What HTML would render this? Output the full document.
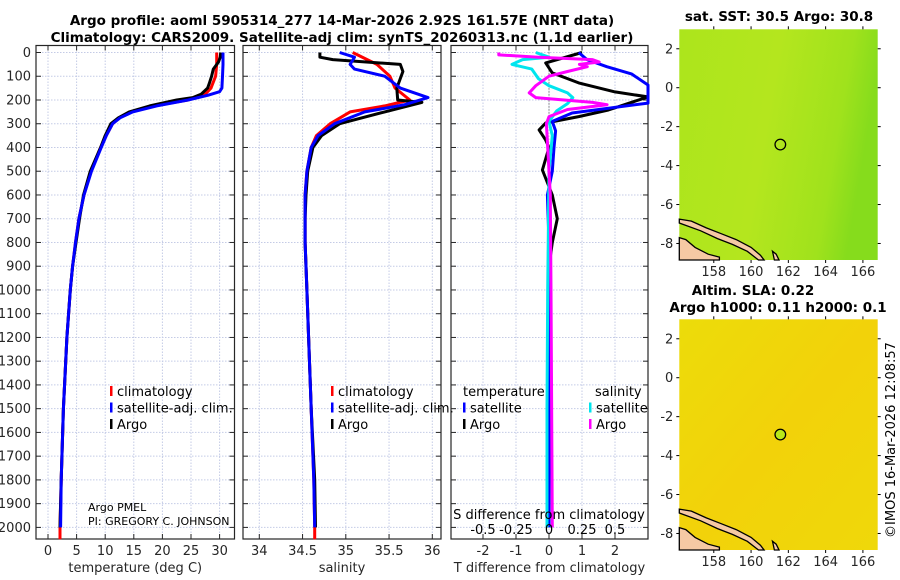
<!DOCTYPE html>
<html><head><meta charset="utf-8"><style>
html,body{margin:0;padding:0;background:#fff;width:900px;height:580px;overflow:hidden}
svg{display:block;font-family:"DejaVu Sans","Liberation Sans",sans-serif}
.t{font-size:13px;fill:#262626}
.b{font-size:13.5px;font-weight:bold;fill:#000}
</style></head><body>
<svg id="fig" width="900" height="580" viewBox="0 0 900 580">
<text class="b" x="342" y="25" text-anchor="middle">Argo profile: aoml 5905314_277 14-Mar-2026 2.92S 161.57E (NRT data)</text>
<text class="b" x="342" y="42" text-anchor="middle">Climatology: CARS2009. Satellite-adj clim: synTS_20260313.nc (1.1d earlier)</text>
</svg>
<script>
// ---- data ----
const depthTicks=[0,100,200,300,400,500,600,700,800,900,1000,1100,1200,1300,1400,1500,1600,1700,1800,1900,2000];
const tempTicks=[0,5,10,15,20,25,30];
const salTicks=[34,34.5,35,35.5,36];
const salTickLabels=["34","34.5","35","35.5","36"];
const tdTicks=[-2,-1,0,1,2];
const sdTicks=[-0.5,-0.25,0,0.25,0.5];
const sdTickLabels=["-0.5","-0.25","0","0.25","0.5"];
const lonTicks=[158,160,162,164,166];
const latTicks=[2,0,-2,-4,-6,-8];

const climDepth=[0,50,100,150,175,200,225,250,275,300,350,400,500,600,700,800,900,1000,1200,1500,1800,2000,2050];
const climTemp=[29.5,29.5,29.3,28.5,27.5,24.5,18.5,14.5,12.5,11.3,10.2,9.2,7.5,6.3,5.4,4.8,4.3,3.9,3.3,2.7,2.3,2.1,2.1];
const satTempDepth=[0,50,100,150,165,180,200,225,250,275,300,350,400,500,600,700,800,900,1000,1200,1500,1800,2000];
const satTemp=[30.6,30.6,30.5,30.4,30,28,24.5,19,14.8,12.6,11.3,10.2,9.3,7.6,6.3,5.4,4.8,4.3,3.9,3.3,2.7,2.3,2.2];
const argoTempDepth=[0,20,40,70,100,130,150,175,190,200,225,250,275,300,350,400,500,600,700,800,900,1000,1200,1500,1800,2000];
const argoTemp=[30.2,30.1,29.8,28.9,28.6,28.2,27.9,26.8,25.3,22.5,17.8,14.2,12.3,11,10,9.2,7.4,6.2,5.5,4.9,4.3,3.9,3.3,2.7,2.3,2.1];

const climSalDepth=[0,50,100,150,200,225,250,300,350,400,500,600,700,800,900,1000,1200,1500,1800,2000,2050];
const climSal=[35.08,35.36,35.51,35.57,35.74,35.45,35.05,34.82,34.66,34.6,34.55,34.53,34.53,34.53,34.54,34.55,34.57,34.6,34.63,34.64,34.64];
const satSalDepth=[0,20,50,70,100,150,190,220,250,300,350,400,500,600,700,800,1000,1200,1500,1800,2000];
const satSal=[34.93,35.1,35.05,35.1,35.45,35.63,35.95,35.68,35.22,34.87,34.68,34.6,34.55,34.53,34.53,34.53,34.55,34.57,34.6,34.63,34.64];
const argoSalDepth=[0,20,30,50,80,150,200,210,250,300,350,400,500,600,700,800,1000,1200,1500,1800,2000];
const argoSal=[34.7,34.7,34.85,35.63,35.66,35.59,35.6,35.88,35.45,34.93,34.72,34.62,34.56,34.54,34.53,34.53,34.55,34.57,34.6,34.64,34.65];

const tdDepth=[0,44,86,128,166,187,242,270,297,326,369,400,495,600,700,800,900,1200,1600,2000];
const argoTDiff=[1.0,-0.1,0.1,0.9,2.0,3.1,1.8,0.9,-0.1,-0.3,-0.1,0,-0.2,0.1,0.25,0.1,0,0.02,0,0];
const satTDiffDepth=[0,30,60,90,137,213,255,290,330,400,500,600,800,1200,1600,2000];
const satTDiff=[0.9,1.15,1.75,2.5,3.1,3.1,0.7,0.1,0.2,0.15,0.1,-0.05,0,0.02,0,0];
const sdDepth=[0,20,30,50,70,110,140,170,190,215,245,290,350,500,1000,1500,2000];
const satSDiff=[-0.1,0,-0.2,-0.28,-0.13,-0.08,0,0.14,0.18,0.14,0.06,0,0.025,0,-0.01,-0.015,-0.015];
const argoSDepth=[0,10,20,30,40,50,60,80,100,140,170,190,210,220,240,270,300,400,600,1000,2000];
const argoSDiff=[-0.38,-0.38,-0.08,0.33,0.38,0.23,0.29,0.14,0,-0.1,-0.15,-0.1,0.33,0.44,0.14,0,-0.02,-0.01,0.01,0.015,0.025];

const argoLon=161.57, argoLat=-2.92;

// ---- helpers ----
const NS="http://www.w3.org/2000/svg";
const svg=document.getElementById('fig');
function mk(tag,attrs,parent){const e=document.createElementNS(NS,tag);for(const k in attrs)e.setAttribute(k,attrs[k]);(parent||svg).appendChild(e);return e;}
const TOP=52.5, PXM=0.23745, BOT=539;
const yD=d=>TOP+d*PXM;

function panel(name,x0,x1,xs,xticks,xlabels,xtitle,ylabels){
  const g=mk('g',{});
  
  
  const top=45.5;
  depthTicks.forEach(d=>{mk('line',{x1:x0,x2:x1,y1:yD(d),y2:yD(d),stroke:'#c4cbe6','stroke-width':1,'stroke-dasharray':'1.5,1.5'},g);});
  xticks.forEach(v=>{mk('line',{x1:xs(v),x2:xs(v),y1:top,y2:BOT,stroke:'#c4cbe6','stroke-width':1,'stroke-dasharray':'1.5,1.5'},g);});
  depthTicks.forEach(d=>{
    mk('line',{x1:x0,x2:x0+5,y1:yD(d),y2:yD(d),stroke:'#262626'},g);
    mk('line',{x1:x1-5,x2:x1,y1:yD(d),y2:yD(d),stroke:'#262626'},g);
    if(ylabels){const t=mk('text',{x:x0-5,y:yD(d)+4.5,'text-anchor':'end',class:'t'},g);t.textContent=d;
      
      }
  });
  xticks.forEach((v,i)=>{
    mk('line',{x1:xs(v),x2:xs(v),y1:BOT-5,y2:BOT,stroke:'#262626'},g);
    mk('line',{x1:xs(v),x2:xs(v),y1:top,y2:top+5,stroke:'#262626'},g);
    const t=mk('text',{x:xs(v),y:555,'text-anchor':'middle',class:'t'},g);t.textContent=xlabels[i];
    
    
  });
  mk('rect',{x:x0,y:top,width:x1-x0,height:BOT-top,fill:'none',stroke:'#262626','stroke-width':1.2},g);
  const tt=mk('text',{x:(x0+x1)/2,y:572,'text-anchor':'middle',class:'t'},g);tt.textContent=xtitle;
  
  
  return g;
}
function line(g,name,xs,vals,depths,color,x0,x1,w){
  const pts=vals.map((v,i)=>{let x=xs(v);x=Math.max(x0,Math.min(x1,x));return x.toFixed(1)+','+yD(depths[i]).toFixed(1)}).join(' ');
  const p=mk('polyline',{points:pts,fill:'none',stroke:color,'stroke-width':w||3,'stroke-linejoin':'round'},g);
  
  
}
function legend(g,x,y,items){
  items.forEach((it,i)=>{
    if(it[1]) mk('rect',{x:x,y:y+i*16.5-6,width:2.5,height:10,fill:it[1]},g);
    const t=mk('text',{x:x+(it[1]?7:0),y:y+i*16.5+4,class:'t',style:'fill:#000'},g);t.textContent=it[0];
    
    
  });
}

// panel 1 temperature
const xT=v=>48+v*5.72;
const g1=panel('temperature-panel',36,234.5,xT,tempTicks,tempTicks.map(String),'temperature (deg C)',true);
line(g1,'clim-temp-line',xT,climTemp,climDepth,'#ff0000',36,234.5);
line(g1,'argo-temp-line',xT,argoTemp,argoTempDepth,'#000000',36,234.5);
line(g1,'sat-temp-line',xT,satTemp.slice(0,-1).concat([2.2]),satTempDepth,'#0000ff',36,234.5);
legend(g1,110,392,[['climatology','#ff0000'],['satellite-adj. clim.','#0000ff'],['Argo','#000']]);
{const t=mk('text',{x:88,y:511,style:'font-size:11px;fill:#000'},g1);t.textContent='Argo PMEL';


const t2=mk('text',{x:88,y:525,style:'font-size:11px;fill:#000'},g1);t2.textContent='PI: GREGORY C. JOHNSON';

}

// panel 2 salinity
const xS=v=>259.3+(v-34)*86.5;
const g2=panel('salinity-panel',243,441,xS,salTicks,salTickLabels,'salinity',false);
line(g2,'clim-sal-line',xS,climSal,climSalDepth,'#ff0000',243,441);
line(g2,'argo-sal-line',xS,argoSal,argoSalDepth,'#000000',243,441);
line(g2,'sat-sal-line',xS,satSal,satSalDepth,'#0000ff',243,441);
legend(g2,331,392,[['climatology','#ff0000'],['satellite-adj. clim.','#0000ff'],['Argo','#000']]);

// panel 3 differences
const xTD=v=>549+v*33;
const xSD=v=>549+v*132;
const g3=panel('difference-panel',451,648,xTD,tdTicks,tdTicks.map(String),'T difference from climatology',false);
mk('line',{x1:549,x2:549,y1:TOP,y2:yD(300),stroke:'#444','stroke-dasharray':'1,2'},g3);
line(g3,'argo-tdiff-line',xTD,argoTDiff,tdDepth,'#000',451,648);
line(g3,'sat-tdiff-line',xTD,satTDiff,satTDiffDepth,'#0000ff',451,648);
line(g3,'sat-sdiff-line',xSD,satSDiff,sdDepth,'#00e5ee',451,648);
line(g3,'argo-sdiff-line',xSD,argoSDiff,argoSDepth,'#ff00ff',451,648);
legend(g3,463,392,[['temperature',null],['satellite','#0000ff'],['Argo','#000']]);
{const t=mk('text',{x:595,y:396,class:'t',style:'fill:#000'},g3);t.textContent='salinity';

}
legend(g3,589,408.5,[['satellite','#00e5ee'],['Argo','#ff00ff']]);
{const t=mk('text',{x:549,y:519,'text-anchor':'middle',class:'t',style:'fill:#000'},g3);t.textContent='S difference from climatology';

}
sdTicks.forEach((v,i)=>{const t=mk('text',{x:xSD(v),y:534,'text-anchor':'middle',class:'t',style:'fill:#000'},g3);t.textContent=sdTickLabels[i];

});

// maps
const MX0=679.3,MX1=877.7;
const mxp=l=>MX0+(l-156.15)*18.64;
function map(name,top,title,fill,dotFill){
  const g=mk('g',{});
  
  
  const myp=l=>top+(3.0-l)*19.47;
  const bot=top+230.7;
  mk('rect',{x:MX0,y:top,width:MX1-MX0,height:bot-top,fill:fill},g);
  const land=[[[156.15,-6.75],[156.8,-6.85],[157.6,-7.2],[158.4,-7.5],[159.2,-7.8],[160,-8.2],[160.5,-8.6],[160.7,-8.85],[160.4,-8.85],[159.8,-8.4],[159,-8.05],[158.2,-7.75],[157.3,-7.35],[156.15,-6.95]],
   [[156.15,-7.7],[156.5,-7.8],[157.0,-8.2],[157.7,-8.55],[158.3,-8.7],[158.3,-8.85],[156.15,-8.85]],
   [[161.15,-8.4],[161.35,-8.55],[161.5,-8.85],[161.25,-8.85]]];
  land.forEach(poly=>mk('polygon',{points:poly.map(p=>mxp(p[0]).toFixed(1)+','+myp(p[1]).toFixed(1)).join(' '),fill:'#f6c9a4',stroke:'#000','stroke-width':1.3},g));
  const c=mk('circle',{cx:mxp(argoLon),cy:myp(argoLat),r:5.3,fill:dotFill,stroke:'#000','stroke-width':1.3},g);
  
  
  lonTicks.forEach(v=>{mk('line',{x1:mxp(v),x2:mxp(v),y1:top-3,y2:top,stroke:'#000'},g);
    mk('line',{x1:mxp(v),x2:mxp(v),y1:bot,y2:bot+3,stroke:'#000'},g);
    const t=mk('text',{x:mxp(v),y:bot+16,'text-anchor':'middle',class:'t'},g);t.textContent=v;
    
    });
  latTicks.forEach(v=>{mk('line',{x1:MX0-3,x2:MX0,y1:myp(v),y2:myp(v),stroke:'#000'},g);
    mk('line',{x1:MX1,x2:MX1+3,y1:myp(v),y2:myp(v),stroke:'#000'},g);
    const t=mk('text',{x:MX0-6,y:myp(v)+4.5,'text-anchor':'end',class:'t'},g);t.textContent=v;
    
    });
  title.forEach((s,i)=>{const t=mk('text',{x:s[1],y:s[2],'text-anchor':'middle',class:'b'},g);t.textContent=s[0];
    
    });
}
const defs=mk('defs',{});
defs.innerHTML='<linearGradient id="sst" x1="0" y1="0" x2="1" y2="0.2"><stop offset="0" stop-color="#ace51c"/><stop offset="0.5" stop-color="#b4e61e"/><stop offset="0.85" stop-color="#a0e21c"/><stop offset="1" stop-color="#86dc1c"/></linearGradient>'+
'<linearGradient id="sla" x1="0" y1="0" x2="1" y2="1"><stop offset="0" stop-color="#ecdc0a"/><stop offset="0.5" stop-color="#f2d20a"/><stop offset="1" stop-color="#efd80a"/></linearGradient>';
map('sst-map',29.3,[['sat. SST: 30.5 Argo: 30.8',779,21]],'url(#sst)','none');
map('sla-map',319.3,[['Altim. SLA: 0.22',753,295],['Argo h1000: 0.11 h2000: 0.1',778,312]],'url(#sla)','#b8e81a');
{const t=mk('text',{x:0,y:0,'text-anchor':'middle',class:'t',transform:'translate(895,440) rotate(-90)',style:'fill:#000'});t.textContent='©IMOS 16-Mar-2026 12:08:57';

}
</script>
</body></html>
